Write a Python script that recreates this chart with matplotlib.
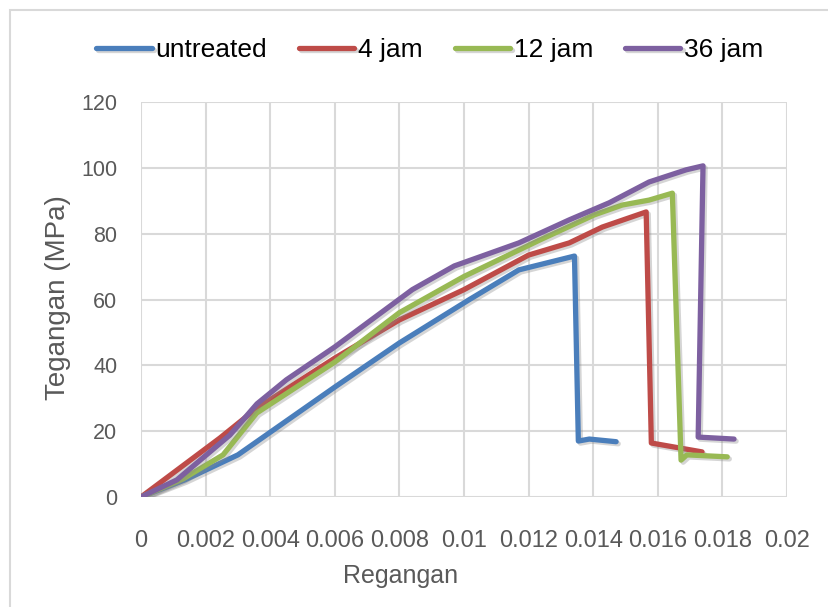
import matplotlib
matplotlib.use('Agg')
import matplotlib.pyplot as plt
import matplotlib.patheffects as pe
from matplotlib.patches import Rectangle

plt.rcParams['font.family'] = ['Liberation Sans', 'DejaVu Sans']

# strain (Regangan) / stress (Tegangan, MPa)
untreated_x = [0, 0.00136, 0.0030, 0.0060, 0.0080, 0.01017, 0.0117, 0.01342, 0.01354, 0.01388, 0.01471]
untreated_y = [0, 5.2, 12.8, 33.4, 46.8, 60.0, 69.0, 73.2, 17.0, 17.6, 16.8]

jam4_x = [0, 0.00244, 0.00359, 0.0060, 0.0080, 0.0100, 0.0120, 0.01326, 0.01428, 0.01564, 0.0158, 0.01737]
jam4_y = [0, 17.9, 27.0, 42.2, 53.8, 63.0, 73.5, 77.2, 82.0, 86.6, 16.4, 13.7]

jam12_x = [0, 0.0013, 0.00254, 0.00358, 0.0060, 0.0080, 0.0100, 0.01233, 0.01403, 0.0149, 0.01573, 0.01645, 0.01672, 0.0169, 0.01815]
jam12_y = [0, 5.5, 12.8, 25.5, 41.0, 56.0, 67.0, 78.0, 85.7, 88.7, 90.2, 92.3, 11.2, 12.8, 12.2]

jam36_x = [0, 0.00111, 0.00275, 0.00359, 0.0045, 0.0060, 0.0084, 0.0097, 0.0117, 0.01326, 0.0145, 0.01573, 0.01688, 0.0174, 0.01725, 0.01836]
jam36_y = [0, 5.2, 18.8, 28.3, 35.6, 45.6, 63.0, 70.2, 77.2, 84.2, 89.4, 95.7, 99.4, 100.6, 18.2, 17.6]

labels = ['untreated', '4 jam', '12 jam', '36 jam']
colors = ['#4A7EBB', '#BE4B48', '#98B954', '#7D60A0']
xticks = [0, 0.002, 0.004, 0.006, 0.008, 0.01, 0.012, 0.014, 0.016, 0.018, 0.02]
xticklabels = ['0', '0.002', '0.004', '0.006', '0.008', '0.01', '0.012', '0.014', '0.016', '0.018', '0.02']
yticks = [0, 20, 40, 60, 80, 100, 120]

fig = plt.figure(figsize=(8.29, 6.07), dpi=100)
ax = fig.add_axes([141 / 829, 1 - 497 / 607, (787 - 141) / 829, (497 - 102) / 607])

# light border around the chart area
fig.patches.append(Rectangle((10 / 829, -0.1), 1.2, 1 - 10 / 607 + 0.1, transform=fig.transFigure,
                             fill=False, edgecolor='#D9D9D9', linewidth=1.5))

shadow = [pe.SimpleLineShadow(offset=(1.5, -1.5), shadow_color='#888888', alpha=0.35), pe.Normal()]
series = [(untreated_x, untreated_y), (jam4_x, jam4_y), (jam12_x, jam12_y), (jam36_x, jam36_y)]
for (xs, ys), lab, col in zip(series, labels, colors):
    ax.plot(xs, ys, color=col, linewidth=3.8, label=lab, solid_capstyle='round',
            solid_joinstyle='round', path_effects=shadow, zorder=3)

ax.set_xlim(0, 0.02)
ax.set_ylim(0, 120)
ax.set_xticks(xticks)
ax.set_xticklabels(xticklabels)
ax.set_yticks(yticks)
ax.grid(True, color='#D9D9D9', linewidth=1.5)
ax.set_axisbelow(True)
for s in ax.spines.values():
    s.set_visible(False)
ax.tick_params(length=0, labelcolor='#595959')
ax.tick_params(axis='x', pad=24, labelsize=17)
ax.tick_params(axis='y', pad=17, labelsize=15.5)

fig.text(58 / 829, 1 - 298 / 607, 'Tegangan (MPa)', rotation=90, ha='center', va='center',
         fontsize=20, color='#595959')
fig.text(401 / 829, 1 - 576 / 607, 'Regangan', ha='center', va='center',
         fontsize=18, color='#595959')

fig.legend(loc='center', bbox_to_anchor=(430 / 829, 1 - 50 / 607), ncol=4, frameon=False,
           fontsize=19, handlelength=2.1, handletextpad=0.15, columnspacing=1.2)

fig.savefig('out.png', dpi=100)
